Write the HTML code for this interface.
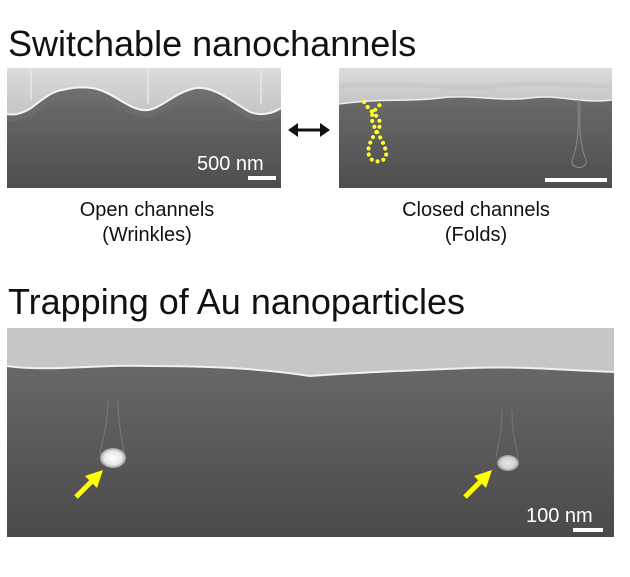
<!DOCTYPE html>
<html><head><style>
body{margin:0;background:#fff;width:630px;height:572px;overflow:hidden;font-family:"Liberation Sans",sans-serif}
</style></head><body>
<svg width="630" height="572" xmlns="http://www.w3.org/2000/svg">
<defs>
<linearGradient id="dk" x1="0" y1="0" x2="0" y2="1">
<stop offset="0" stop-color="#7a7a7a"/><stop offset="0.35" stop-color="#666"/><stop offset="1" stop-color="#4e4e4e"/></linearGradient>
<linearGradient id="lt" x1="0" y1="0" x2="0" y2="1">
<stop offset="0" stop-color="#dcdcdc"/><stop offset="1" stop-color="#c4c4c4"/></linearGradient>
<linearGradient id="bdk" x1="0" y1="0" x2="0" y2="1">
<stop offset="0" stop-color="#6e6e6e"/><stop offset="0.5" stop-color="#5c5c5c"/><stop offset="1" stop-color="#4a4a4a"/></linearGradient>
<radialGradient id="pg"><stop offset="0" stop-color="#fff"/><stop offset="0.7" stop-color="#e8e8e8"/><stop offset="1" stop-color="#999"/></radialGradient>
<clipPath id="cl"><rect x="7" y="68" width="274" height="120"/></clipPath>
<clipPath id="cr"><rect x="339" y="68" width="273" height="120"/></clipPath>
</defs>
<text x="8" y="56" font-size="36" fill="#111" font-family="Liberation Sans,sans-serif">Switchable nanochannels</text>
<!-- left image -->
<g clip-path="url(#cl)">
<rect x="7" y="68" width="274" height="120" fill="url(#dk)"/>
<path d="M7 114 C15 116 25 112 31 108 C42 100 50 92 62 90 C75 87 88 86 100 90 C118 96 132 112 148 110 C162 108 175 92 196 88 C215 86 235 104 250 112 C260 116 272 114 281 108" stroke="#707070" stroke-width="14" fill="none" opacity="0.6"/>
<path d="M7 68 H281 V108 C272 114 260 116 250 112 C235 104 215 86 196 88 C175 92 162 108 148 110 C132 112 118 96 100 90 C88 86 75 87 62 90 C50 92 42 100 31 108 C25 112 15 116 7 114 Z" fill="url(#lt)"/>
<path d="M31 70 V100 M148 70 V104 M261 70 V104" stroke="#e8e8e8" stroke-width="1.5"/>
<path d="M7 114 C15 116 25 112 31 108 C42 100 50 92 62 90 C75 87 88 86 100 90 C118 96 132 112 148 110 C162 108 175 92 196 88 C215 86 235 104 250 112 C260 116 272 114 281 108" stroke="#f4f4f4" stroke-width="2" fill="none"/>
</g>
<text x="197" y="170" font-size="20" fill="#fff">500 nm</text>
<rect x="248" y="176" width="28" height="4" fill="#fff"/>
<!-- arrow -->
<path d="M292 130 H326" stroke="#111" stroke-width="3"/>
<path d="M288 130 L298 123 L298 137 Z M330 130 L320 123 L320 137 Z" fill="#111"/>
<!-- right image -->
<g clip-path="url(#cr)">
<rect x="339" y="68" width="273" height="120" fill="url(#dk)"/>
<path d="M339 68 H612 V100 C580 104 560 94 530 98 C500 102 470 94 440 98 C410 102 380 98 339 104 Z" fill="url(#lt)"/>
<path d="M339 86 C400 82 450 90 500 86 C550 80 580 88 612 86" stroke="#c8c8c8" stroke-width="5" fill="none" opacity="0.7"/>
<path d="M339 104 C380 98 410 102 440 98 C470 94 500 102 530 98 C560 94 580 104 612 100" stroke="#eee" stroke-width="1.5" fill="none"/>
<path d="M578 100 C578 120 580 140 572 160 C570 170 588 170 586 160 C578 140 580 120 580 100" stroke="#8a8a8a" stroke-width="1" fill="none"/>
<path d="M364 102 C372 115 385 118 378 130 C370 140 366 150 370 158 C375 164 388 162 386 152 C384 140 375 132 372 120 C370 112 380 106 382 102" stroke="#ffff33" stroke-width="4" stroke-dasharray="0.1 6" stroke-linecap="round" fill="none"/>
</g>
<rect x="545" y="178" width="62" height="4" fill="#fff"/>
<text x="147" y="216" font-size="20" fill="#111" text-anchor="middle">Open channels</text>
<text x="147" y="241" font-size="20" fill="#111" text-anchor="middle">(Wrinkles)</text>
<text x="476" y="216" font-size="20" fill="#111" text-anchor="middle">Closed channels</text>
<text x="476" y="241" font-size="20" fill="#111" text-anchor="middle">(Folds)</text>
<text x="8" y="314" font-size="36" fill="#111">Trapping of Au nanoparticles</text>
<!-- bottom image -->
<rect x="7" y="328" width="607" height="209" fill="url(#bdk)"/>
<path d="M7 328 H614 V372 C560 370 520 366 470 368 C420 370 360 372 310 376 C260 368 200 366 150 366 C100 364 50 372 7 366 Z" fill="#c6c6c6"/>
<path d="M7 366 C50 372 100 364 150 366 C200 366 260 368 310 376 C360 372 420 370 470 368 C520 366 560 370 614 372" stroke="#f0f0f0" stroke-width="2" fill="none"/>
<path d="M108 400 C108 430 100 445 100 455 M118 400 C118 430 124 445 124 455" stroke="#7a7a7a" fill="none"/>
<path d="M502 410 C502 440 496 450 496 458 M512 410 C512 440 518 450 518 458" stroke="#757575" fill="none"/>
<ellipse cx="113" cy="458" rx="13" ry="10" fill="url(#pg)"/>
<ellipse cx="508" cy="463" rx="11" ry="8" fill="url(#pg)" opacity="0.85"/>
<path d="M76 497 L94 479" stroke="#ffff00" stroke-width="5"/>
<path d="M103 470 L85 476 L97 488 Z" fill="#ffff00"/>
<path d="M465 497 L483 479" stroke="#ffff00" stroke-width="5"/>
<path d="M492 470 L474 476 L486 488 Z" fill="#ffff00"/>
<text x="526" y="522" font-size="20" fill="#fff">100 nm</text>
<rect x="573" y="528" width="30" height="4" fill="#fff"/>
</svg>
</body></html>
